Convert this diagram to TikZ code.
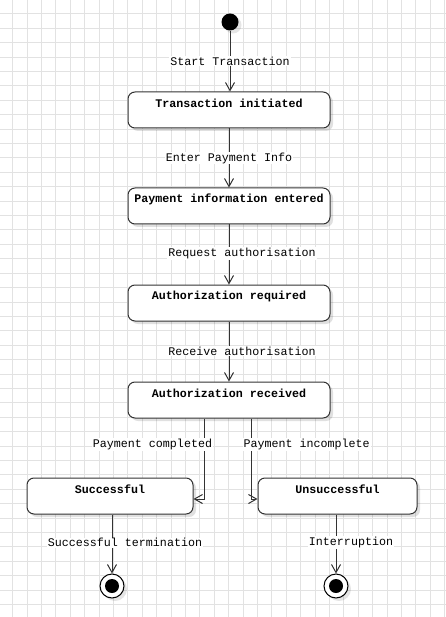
\documentclass[tikz,border=0pt]{standalone}
\usepackage{fontspec}
\setmonofont{Liberation Mono}
\usetikzlibrary{arrows.meta,shadows}

\definecolor{gridline}{HTML}{E2E2E2}
\definecolor{ink}{HTML}{333333}

\tikzset{
  stateshape/.style={draw=ink, line width=1pt, fill=white, rounded corners=7pt,
    minimum height=36pt, inner sep=0pt,
    drop shadow={shadow xshift=3pt, shadow yshift=-3pt, opacity=0.12, fill=black}},
  statetitle/.style={anchor=center, yshift=-12pt, font=\ttfamily\bfseries\fontsize{11.67}{13}\selectfont},
  initstate/.style={circle, fill=black, minimum size=17pt, inner sep=0pt,
    drop shadow={shadow xshift=3pt, shadow yshift=-3pt, opacity=0.1, fill=black}},
  finalstate/.style={circle, draw=black, line width=1pt, fill=white, minimum size=24pt, inner sep=0pt,
    drop shadow={shadow xshift=3pt, shadow yshift=-3pt, opacity=0.1, fill=black},
    path picture={\fill[black] (path picture bounding box.center) circle (7);}},
  flow/.style={draw=ink, line width=1pt, -{Straight Barb[length=8pt,width=9pt,line width=1pt]}},
  flowlabel/.style={fill=white, inner sep=1pt, text=black, font=\ttfamily\fontsize{11.67}{13}\selectfont}
}

\begin{document}
\begin{tikzpicture}[x=1pt,y=-1pt]
  % page and background grid
  \useasboundingbox (0,0) rectangle (446,617);
  \fill[white] (0,0) rectangle (446,617);
  \foreach \i in {0,...,31}
    \draw[gridline, line width=1pt] ({-1.7+14.4*\i},0) -- ({-1.7+14.4*\i},617);
  \foreach \j in {0,...,43}
    \draw[gridline, line width=1pt] (0,{-0.4+14.4*\j}) -- (446,{-0.4+14.4*\j});

  % states
  \node[initstate] (init) at (230,22) {};
  \node[stateshape, minimum width=202pt, label={[statetitle]north:Transaction initiated}] (s1) at (229,110) {};
  \node[stateshape, minimum width=202pt, label={[statetitle]north:Payment information entered}] (s2) at (229,206) {};
  \node[stateshape, minimum width=202pt, label={[statetitle]north:Authorization required}] (s3) at (229,303) {};
  \node[stateshape, minimum width=202pt, label={[statetitle]north:Authorization received}] (s4) at (229,400) {};
  \node[stateshape, minimum width=166pt, label={[statetitle]north:Successful}] (ok) at (110,496) {};
  \node[stateshape, minimum width=159pt, label={[statetitle]north:Unsuccessful}] (bad) at (337.5,496) {};
  \node[finalstate] (fin1) at (112,586) {};
  \node[finalstate] (fin2) at (336,586) {};

  % transitions
  \draw[flow] (init) -- node[flowlabel, pos=0.5] {Start Transaction} (init |- s1.north);
  \draw[flow] (s1) -- node[flowlabel, pos=0.5] {Enter Payment Info} (s2);
  \draw[flow] (s2) -- node[flowlabel, pos=0.49, xshift=13pt] {Request authorisation} (s3);
  \draw[flow] (s3) -- node[flowlabel, pos=0.49, xshift=13pt] {Receive authorisation} (s4);
  \draw[flow] ([xshift=-25pt]s4.south) |- node[flowlabel, pos=0.16, xshift=-51.5pt] {Payment completed} ([yshift=-3pt]ok.east);
  \draw[flow] ([xshift=22.7pt]s4.south) |- node[flowlabel, pos=0.16, xshift=55pt] {Payment incomplete} ([yshift=-3pt]bad.west);
  \draw[flow] (ok.south -| fin1) -- node[flowlabel, pos=0.48, xshift=13pt] {Successful termination} (fin1);
  \draw[flow] (bad.south -| fin2) -- node[flowlabel, pos=0.48, xshift=15pt] {Interruption} (fin2);
\end{tikzpicture}
\end{document}
